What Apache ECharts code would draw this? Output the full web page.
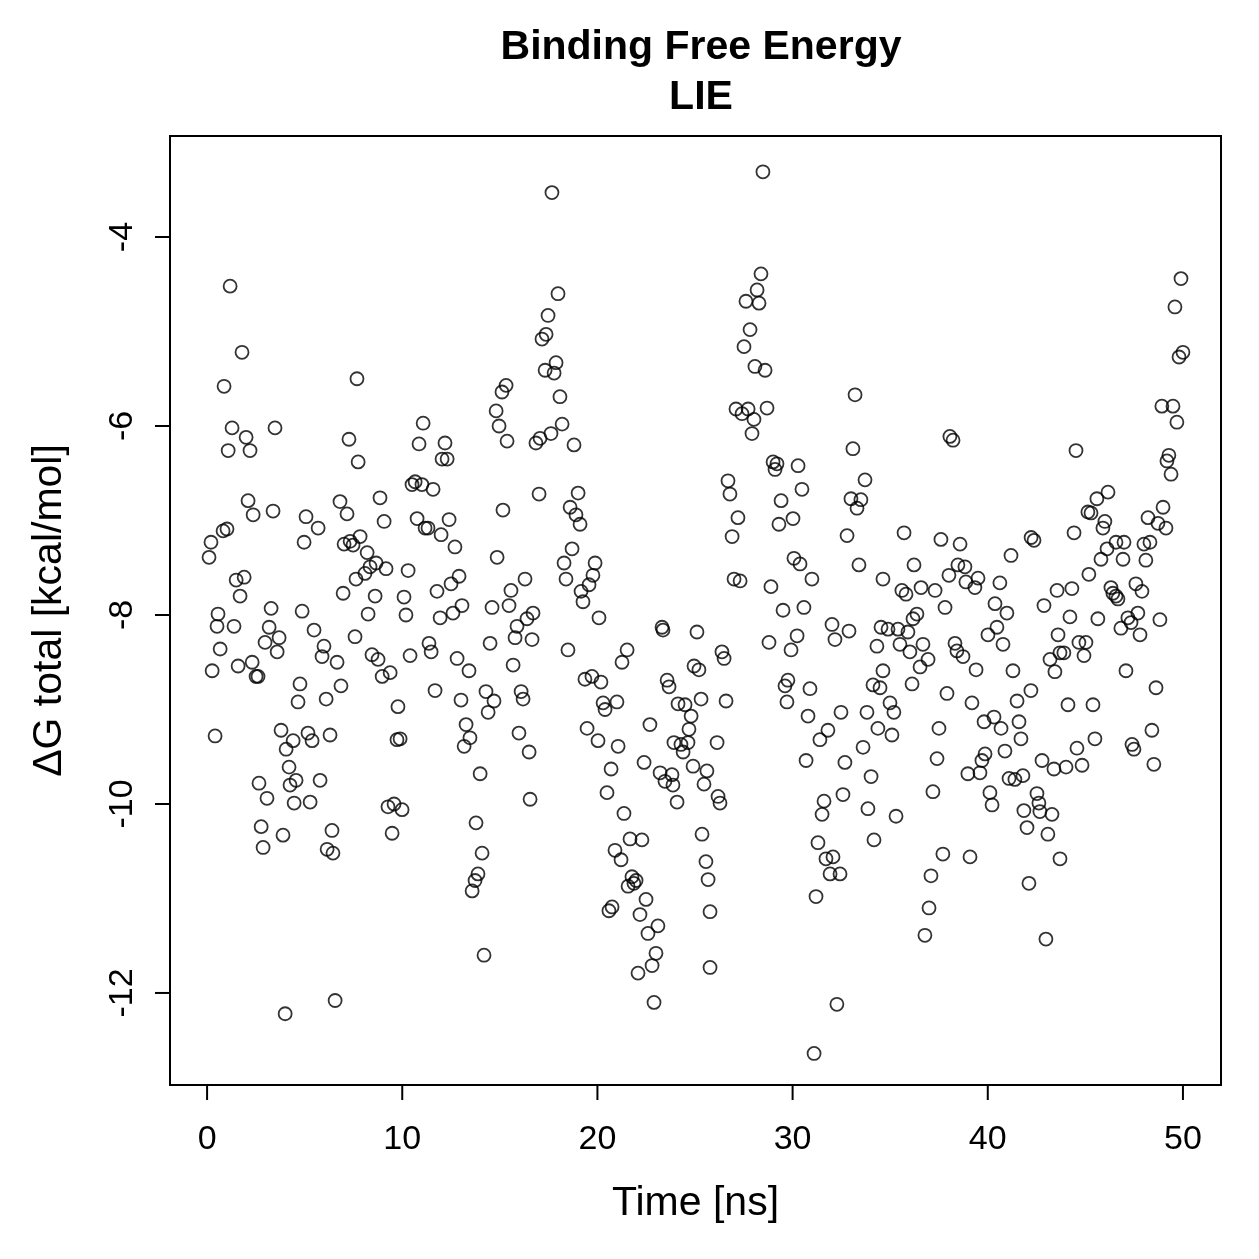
<!DOCTYPE html>
<html>
<head>
<meta charset="utf-8">
<script src="https://cdn.jsdelivr.net/npm/echarts@6/dist/echarts.min.js"></script>
<style>
  html, body { margin: 0; padding: 0; background: #fff; }
  #chart { width: 1259px; height: 1259px; }
</style>
</head>
<body>
<div id="chart"></div>
<script>
// time [ns] and dG total [kcal/mol] in six x-slices
const timeA = [1.18,1.79,0.87,7.68,1.28,2.00,3.48,1.08,2.20,7.27,7.74,2.10,2.36,3.38,5.07,5.69,4.97,6.81,7.17,7.02,7.33,7.48,7.84,0.82,1.02,0.20,0.10,1.49,1.90,1.69,0.56,3.28,4.87,6.97,7.63,0.51,1.38,3.18,2.97,3.69,3.59,5.48,5.99,5.89,6.66,7.58,0.67,0.26,1.59,2.31,2.51,2.61,4.76,6.86,4.66,6.10,0.41,3.79,4.41,4.05,5.17,5.38,6.30,4.20,4.56,4.25,5.79,2.66,3.07,4.46,5.28,2.77,3.89,2.87,6.40,6.15,6.45,6.56,4.00];
const dgA = [-4.52,-5.22,-5.58,-5.50,-6.02,-6.12,-6.02,-6.26,-6.26,-6.14,-6.38,-6.79,-6.94,-6.90,-6.96,-7.08,-7.23,-6.80,-6.93,-7.25,-7.22,-7.26,-7.17,-7.11,-7.09,-7.23,-7.39,-7.63,-7.60,-7.80,-7.99,-7.93,-7.96,-7.77,-7.62,-8.12,-8.12,-8.13,-8.29,-8.24,-8.39,-8.16,-8.33,-8.44,-8.50,-8.23,-8.36,-8.59,-8.54,-8.50,-8.65,-8.65,-8.73,-8.75,-8.92,-8.89,-9.28,-9.22,-9.33,-9.42,-9.25,-9.33,-9.27,-9.61,-9.75,-9.80,-9.75,-9.78,-9.94,-9.99,-9.98,-10.24,-10.33,-10.46,-10.28,-10.48,-10.52,-12.08,-12.22];

const timeB = [15.32,15.11,14.81,14.96,15.37,11.07,10.86,12.19,12.04,12.30,10.66,10.50,11.01,11.58,8.86,9.07,15.16,10.76,11.17,11.32,12.40,11.99,12.70,8.20,8.66,8.35,8.09,9.17,10.30,14.86,16.29,15.57,12.91,12.50,11.78,8.61,10.09,14.60,15.47,13.06,12.60,11.94,10.19,8.25,16.70,16.39,15.88,15.78,16.65,14.50,8.45,8.76,10.40,11.37,11.48,12.81,13.42,15.68,8.97,9.38,11.68,13.01,14.29,14.70,14.40,16.09,16.19,9.78,9.73,9.89,13.27,13.47,13.17,15.98,16.50,13.99,16.55,9.27,9.58,9.99,9.48,13.78,14.09,13.88,13.73,13.58,14.19];
const dgB = [-5.57,-5.64,-5.84,-6.00,-6.16,-5.97,-6.19,-6.18,-6.35,-6.35,-6.59,-6.62,-6.62,-6.67,-6.76,-7.01,-6.89,-6.98,-7.08,-7.08,-6.99,-7.15,-7.28,-7.34,-7.45,-7.49,-7.56,-7.51,-7.53,-7.39,-7.62,-7.74,-7.59,-7.67,-7.75,-7.80,-7.81,-7.92,-7.90,-7.90,-7.98,-8.03,-8.00,-7.99,-7.98,-8.04,-8.12,-8.24,-8.26,-8.30,-8.42,-8.47,-8.43,-8.30,-8.39,-8.46,-8.59,-8.53,-8.65,-8.61,-8.80,-8.90,-8.81,-8.91,-9.03,-8.81,-8.89,-8.97,-9.32,-9.31,-9.16,-9.30,-9.39,-9.25,-9.45,-9.68,-9.95,-10.03,-10.00,-10.06,-10.31,-10.20,-10.52,-10.74,-10.81,-10.92,-11.60];

const timeC = [17.67,17.98,17.47,17.37,17.16,17.88,17.32,17.78,18.08,18.19,17.62,17.06,16.85,18.80,17.01,19.01,18.60,18.90,19.11,18.70,18.29,19.88,18.39,19.77,19.57,19.16,19.26,20.08,18.49,21.52,21.26,23.31,23.36,25.10,24.95,25.20,23.57,23.67,25.31,19.36,19.72,20.18,20.29,20.39,21.00,22.69,24.13,24.49,24.80,24.69,19.47,20.03,21.06,20.70,22.39,23.21,23.82,23.46,23.87,23.92,24.28,24.64,24.39,24.90,25.61,25.46,20.49,21.36,24.08,21.67,22.28,20.90,21.21,21.77,21.98,21.57,21.87,22.49,20.75,20.59,22.18,23.10,22.59,23.00,22.80,22.08,22.90,25.36,25.56,25.67,25.77,25.77];
const dgC = [-3.53,-4.60,-4.83,-5.03,-5.08,-5.33,-5.41,-5.44,-5.69,-5.98,-6.08,-6.13,-6.18,-6.20,-6.72,-6.71,-6.86,-6.94,-7.04,-7.30,-7.45,-7.45,-7.62,-7.58,-7.68,-7.75,-7.86,-8.03,-8.37,-8.37,-8.50,-8.13,-8.16,-8.18,-8.54,-8.58,-8.69,-8.76,-8.89,-8.68,-8.65,-8.71,-8.93,-9.00,-8.92,-9.16,-8.94,-8.95,-9.07,-9.21,-9.20,-9.33,-9.39,-9.63,-9.56,-9.67,-9.69,-9.76,-9.80,-9.35,-9.37,-9.35,-9.45,-9.60,-9.65,-9.79,-9.88,-10.10,-9.98,-10.37,-10.38,-10.49,-10.59,-10.77,-10.81,-10.87,-10.84,-11.01,-11.09,-11.13,-11.17,-11.29,-11.37,-11.58,-11.71,-11.79,-12.10,-10.32,-10.61,-10.80,-11.14,-11.73];

const timeD = [28.48,28.38,28.18,27.61,28.28,27.82,27.51,28.07,28.59,33.20,27.10,27.41,27.72,28.02,28.69,27.92,33.09,29.00,29.20,29.10,30.28,33.71,32.99,33.50,33.30,26.69,26.79,30.48,29.41,27.20,26.90,29.30,30.02,32.79,30.07,30.38,30.99,33.40,27.00,27.31,28.89,29.51,30.58,34.63,32.02,32.89,32.17,28.79,30.23,29.92,34.32,34.53,34.63,26.38,26.49,29.76,29.61,29.71,30.89,34.12,34.48,26.59,30.79,32.48,33.81,31.81,31.40,34.37,33.61,26.13,30.69,32.68,34.02,26.18,26.28,31.61,31.51,32.58,33.86,34.17,31.30,31.71,32.07,31.92,32.43,31.20,32.27,31.10];
const dgD = [-3.31,-4.39,-4.56,-4.68,-4.70,-4.98,-5.16,-5.37,-5.41,-5.67,-5.82,-5.87,-5.82,-5.93,-5.81,-6.08,-6.24,-6.38,-6.40,-6.46,-6.42,-6.57,-6.77,-6.78,-6.87,-6.58,-6.72,-6.67,-6.79,-6.97,-7.17,-7.04,-6.98,-7.16,-7.40,-7.46,-7.62,-7.47,-7.62,-7.64,-7.70,-7.95,-7.92,-7.62,-8.10,-8.17,-8.26,-8.29,-8.22,-8.37,-8.33,-8.13,-8.59,-8.39,-8.46,-8.69,-8.75,-8.92,-8.78,-8.74,-8.77,-8.91,-9.07,-9.03,-9.03,-9.22,-9.32,-9.20,-9.40,-9.35,-9.54,-9.56,-9.71,-9.92,-9.99,-9.97,-10.11,-9.90,-10.05,-10.38,-10.41,-10.58,-10.56,-10.74,-10.74,-10.98,-12.12,-12.64];

const timeE = [38.06,38.22,35.71,37.60,38.58,42.22,42.37,41.19,36.22,38.47,38.83,38.01,38.88,39.34,39.50,40.62,35.60,35.81,36.58,37.30,37.81,40.37,40.98,42.88,43.55,36.37,36.17,34.89,35.40,35.91,35.50,36.01,36.68,36.94,36.53,38.32,38.42,38.73,39.40,40.01,40.47,40.78,41.29,43.60,43.70,43.19,43.44,36.12,37.91,39.19,34.99,35.19,35.09,42.21,41.50,39.81,40.32,40.68,41.60,41.70,37.50,37.40,40.88,39.86,39.70,39.60,38.98,41.09,41.39,41.80,42.78,43.39,37.19,40.11,40.22,42.52,42.62,42.67,41.85,43.29,42.01,43.08,35.30,37.70,39.09,37.09,36.99,36.78,42.11,43.70,42.98];
const dgE = [-6.11,-6.15,-7.13,-7.20,-7.25,-7.18,-7.21,-7.37,-7.47,-7.47,-7.49,-7.58,-7.65,-7.71,-7.61,-7.66,-7.74,-7.78,-7.71,-7.74,-7.92,-7.88,-7.98,-7.90,-7.74,-7.99,-8.04,-8.15,-8.15,-8.18,-8.31,-8.39,-8.31,-8.47,-8.55,-8.30,-8.38,-8.44,-8.58,-8.21,-8.13,-8.31,-8.59,-8.21,-8.40,-8.47,-8.60,-8.73,-8.83,-8.93,-8.93,-9.03,-9.27,-8.80,-8.91,-9.13,-9.08,-9.20,-9.13,-9.31,-9.20,-9.52,-9.44,-9.47,-9.54,-9.67,-9.68,-9.73,-9.74,-9.70,-9.54,-9.63,-9.87,-9.88,-10.01,-9.89,-9.99,-10.08,-10.07,-10.11,-10.25,-10.32,-10.13,-10.53,-10.56,-10.76,-11.10,-11.39,-10.84,-10.58,-11.43];

const timeF = [49.90,49.59,50.00,49.80,48.92,49.49,49.69,44.52,49.28,49.18,49.39,46.16,45.59,45.13,45.29,46.00,45.90,44.42,48.98,48.21,48.72,49.13,46.57,46.98,46.11,45.80,46.93,48.31,48.00,48.10,45.18,44.31,46.31,46.41,46.67,46.57,47.59,47.90,44.21,45.64,47.18,47.69,48.82,47.34,46.82,47.80,43.90,44.67,45.03,44.93,47.08,48.62,44.11,45.39,44.57,45.49,47.39,47.49,48.41,44.01,44.83,48.51];
const dgF = [-4.44,-4.74,-5.22,-5.27,-5.79,-5.79,-5.96,-6.26,-6.31,-6.37,-6.51,-6.70,-6.77,-6.91,-6.92,-7.01,-7.08,-7.13,-6.86,-6.97,-7.03,-7.08,-7.23,-7.23,-7.30,-7.41,-7.41,-7.23,-7.25,-7.42,-7.57,-7.72,-7.71,-7.77,-7.83,-7.80,-7.67,-7.75,-8.02,-8.04,-8.03,-7.98,-8.05,-8.08,-8.14,-8.21,-8.40,-8.29,-8.29,-8.43,-8.59,-8.77,-8.95,-8.95,-9.41,-9.31,-9.37,-9.42,-9.22,-9.61,-9.59,-9.58];

const xTicks = [0, 10, 20, 30, 40, 50];
const yTicks = [-12, -10, -8, -6, -4];

const FONT = '"Liberation Sans", Arial, Helvetica, sans-serif';
const X_MIN = -1.9, X_MAX = 51.95;
const Y_MIN = -12.974, Y_MAX = -2.931;
const GRID = { left: 170, top: 136, width: 1051, height: 949 };
const TICK_LEN = 15;

const points = [];
[[timeA, dgA], [timeB, dgB], [timeC, dgC], [timeD, dgD], [timeE, dgE], [timeF, dgF]].forEach(function (pair) {
  const n = Math.min(pair[0].length, pair[1].length);
  for (let i = 0; i < n; i++) {
    points.push([pair[0][i], pair[1][i]]);
  }
});

// tick marks outside the plot box, placed with the same linear mapping as the axes
const tickMarks = [];
xTicks.forEach(function (v) {
  const px = GRID.left + (v - X_MIN) / (X_MAX - X_MIN) * GRID.width;
  tickMarks.push({
    type: 'rect', z: 100, silent: true,
    shape: { x: px - 1, y: GRID.top + GRID.height, width: 2, height: TICK_LEN },
    style: { fill: '#000' }
  });
});
yTicks.forEach(function (v) {
  const py = GRID.top + (Y_MAX - v) / (Y_MAX - Y_MIN) * GRID.height;
  tickMarks.push({
    type: 'rect', z: 100, silent: true,
    shape: { x: GRID.left - TICK_LEN, y: py - 1, width: TICK_LEN, height: 2 },
    style: { fill: '#000' }
  });
});

const chart = echarts.init(document.getElementById('chart'), null, { renderer: 'canvas' });

chart.setOption({
  animation: false,
  backgroundColor: '#fff',
  title: {
    text: 'Binding Free Energy\nLIE',
    left: 696,
    top: 18,
    textAlign: 'center',
    textStyle: {
      fontFamily: FONT,
      fontSize: 41,
      fontWeight: 'bold',
      color: '#000',
      lineHeight: 50
    }
  },
  grid: {
    left: GRID.left,
    top: GRID.top,
    width: GRID.width,
    height: GRID.height,
    show: true,
    borderColor: '#000',
    borderWidth: 2,
    backgroundColor: 'transparent'
  },
  graphic: tickMarks,
  xAxis: {
    type: 'value',
    min: X_MIN,
    max: X_MAX,
    name: 'Time [ns]',
    nameLocation: 'middle',
    nameGap: 98,
    nameTextStyle: { fontFamily: FONT, fontSize: 41, color: '#000' },
    axisLine: { show: false, onZero: false },
    axisTick: { show: false },
    axisLabel: { customValues: xTicks, fontFamily: FONT, fontSize: 34, color: '#000', margin: 38 },
    splitLine: { show: false }
  },
  yAxis: {
    type: 'value',
    min: Y_MIN,
    max: Y_MAX,
    name: 'ΔG total [kcal/mol]',
    nameLocation: 'middle',
    nameGap: 100,
    nameTextStyle: { fontFamily: FONT, fontSize: 41, color: '#000' },
    axisLine: { show: false, onZero: false },
    axisTick: { show: false },
    axisLabel: {
      customValues: yTicks,
      rotate: 90,
      align: 'center',
      verticalAlign: 'bottom',
      fontFamily: FONT,
      fontSize: 34,
      color: '#000',
      margin: 30
    },
    splitLine: { show: false }
  },
  series: [{
    type: 'scatter',
    data: points,
    symbol: 'circle',
    symbolSize: 13,
    itemStyle: {
      color: 'rgba(0,0,0,0)',
      borderColor: '#000',
      borderWidth: 1.8
    }
  }]
});
</script>
</body>
</html>
